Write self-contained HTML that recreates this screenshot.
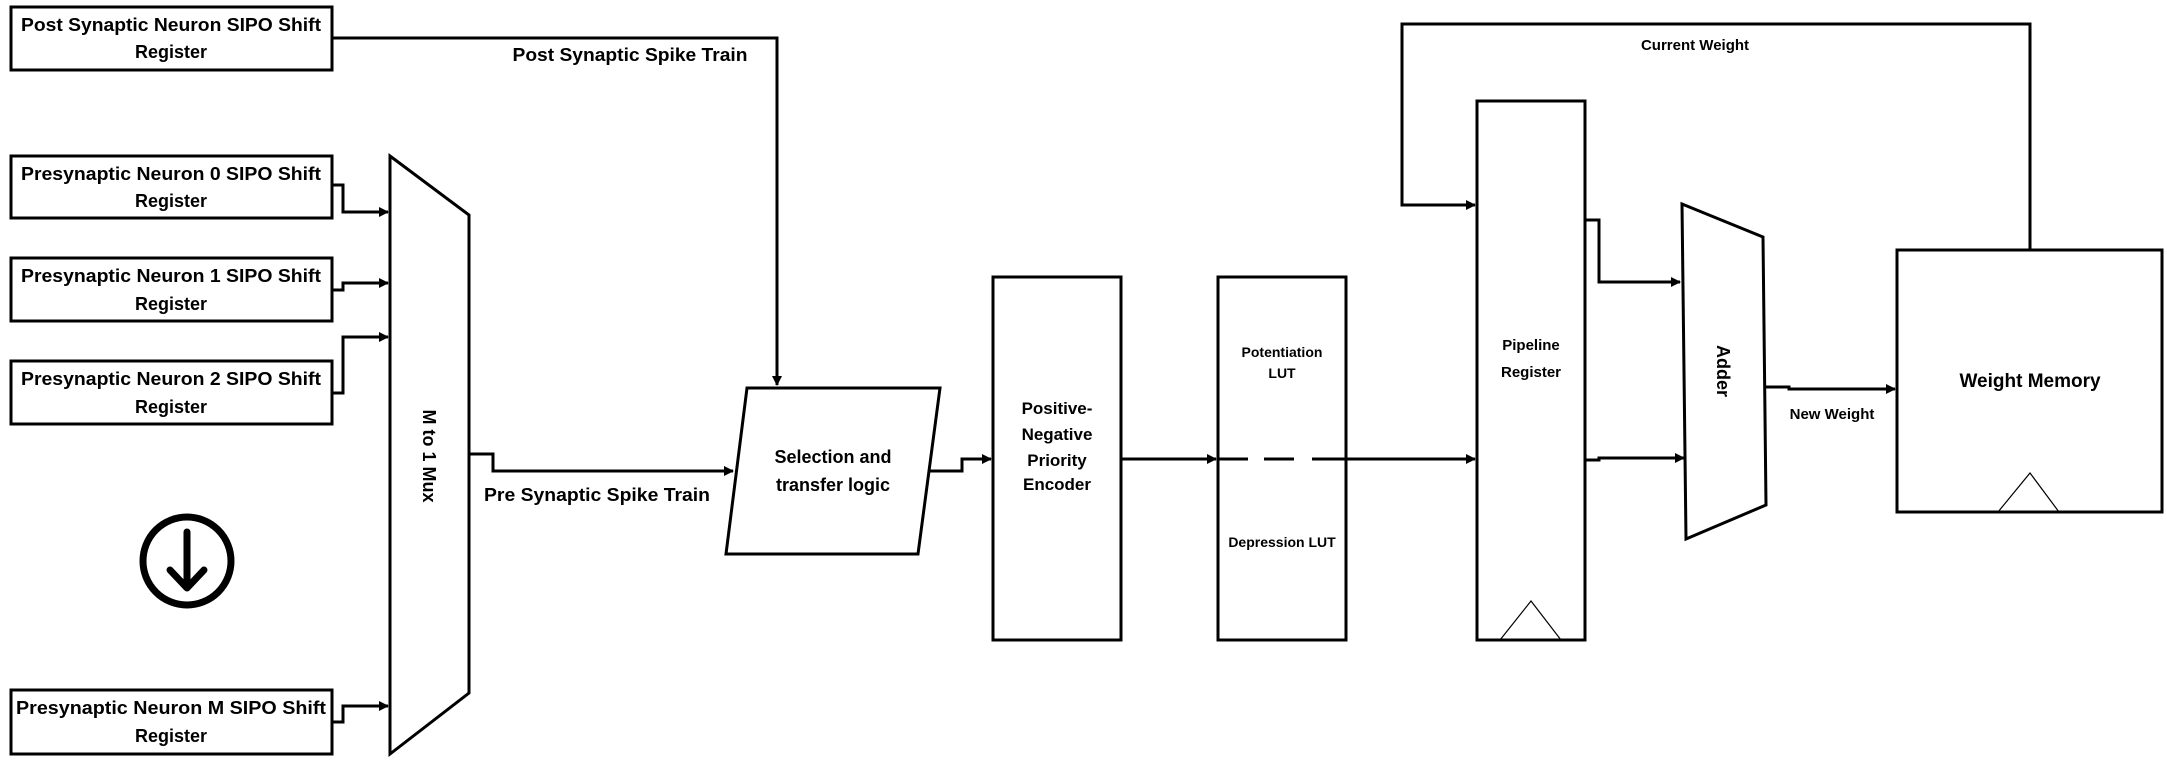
<!DOCTYPE html>
<html><head><meta charset="utf-8"><style>
html,body{margin:0;padding:0;background:#fff;}
svg{display:block;}
text{font-family:"Liberation Sans",sans-serif;font-weight:bold;fill:#000;}
</style></head><body>
<svg width="2167" height="765" viewBox="0 0 2167 765" xmlns="http://www.w3.org/2000/svg">
<defs>
<marker id="a" markerWidth="10" markerHeight="10" refX="9" refY="5" orient="auto" markerUnits="userSpaceOnUse">
<path d="M0,0 L10,5 L0,10 z" fill="#000"/>
</marker>
</defs>
<g fill="none" stroke="#000" stroke-width="3">
<!-- boxes -->
<rect x="11" y="7" width="321" height="63"/>
<rect x="11" y="156" width="321" height="62"/>
<rect x="11" y="258" width="321" height="63"/>
<rect x="11" y="361" width="321" height="63"/>
<rect x="11" y="690" width="321" height="64"/>
<!-- mux -->
<polygon points="390,156 469,215 469,693 390,754"/>
<!-- circle icon -->
<circle cx="187" cy="561" r="44" stroke-width="7"/>
<path d="M187,532 L187,586 M170,570 L187,588 L204,570" stroke-width="7" stroke-linecap="round" stroke-linejoin="round"/>
<!-- selection -->
<polygon points="747,388 940,388 918,554 726,554"/>
<rect x="993" y="277" width="128" height="363"/>
<rect x="1218" y="277" width="128" height="363"/>
<rect x="1477" y="101" width="108" height="539"/>
<polygon points="1682,204 1763,237 1766,505 1686,539"/>
<rect x="1897" y="250" width="265" height="262"/>
<!-- connectors -->
<polyline points="332,38 777,38 777,385" marker-end="url(#a)"/>
<polyline points="332,185 343,185 343,212 388,212" marker-end="url(#a)"/>
<polyline points="332,290 343,290 343,283 388,283" marker-end="url(#a)"/>
<polyline points="332,393 343,393 343,337 388,337" marker-end="url(#a)"/>
<polyline points="332,722 343,722 343,706 388,706" marker-end="url(#a)"/>
<polyline points="469,454 493,454 493,471 733,471" marker-end="url(#a)"/>
<polyline points="930,471 962,471 962,459 991,459" marker-end="url(#a)"/>
<polyline points="1121,459 1216,459" marker-end="url(#a)"/>
<path d="M1219,459 H1248 M1264,459 H1294 M1312,459 H1343"/>
<polyline points="1343,459 1475,459" marker-end="url(#a)"/>
<polyline points="2030,250 2030,24 1402,24 1402,205 1475,205" marker-end="url(#a)"/>
<polyline points="1585,220 1599,220 1599,282 1680,282" marker-end="url(#a)"/>
<polyline points="1585,460 1599,460 1599,458 1684,458" marker-end="url(#a)"/>
<polyline points="1766,387 1789,387 1789,389 1895,389" marker-end="url(#a)"/>
</g>
<g fill="none" stroke="#000" stroke-width="1.2">
<polyline points="1500,640 1531,601 1561,640"/>
<polyline points="1998,512 2030,473 2059,512"/>
</g>
<g font-size="18" text-anchor="middle">
<text x="171" y="31" textLength="300" lengthAdjust="spacingAndGlyphs">Post Synaptic Neuron SIPO Shift</text>
<text x="171" y="58">Register</text>
<text x="171" y="180" textLength="300" lengthAdjust="spacingAndGlyphs">Presynaptic Neuron 0 SIPO Shift</text>
<text x="171" y="207">Register</text>
<text x="171" y="282" textLength="300" lengthAdjust="spacingAndGlyphs">Presynaptic Neuron 1 SIPO Shift</text>
<text x="171" y="310">Register</text>
<text x="171" y="385" textLength="300" lengthAdjust="spacingAndGlyphs">Presynaptic Neuron 2 SIPO Shift</text>
<text x="171" y="413">Register</text>
<text x="171" y="714" textLength="310" lengthAdjust="spacingAndGlyphs">Presynaptic Neuron M SIPO Shift</text>
<text x="171" y="742">Register</text>
<text x="630" y="61" textLength="235" lengthAdjust="spacingAndGlyphs">Post Synaptic Spike Train</text>
<text x="597" y="501" textLength="226" lengthAdjust="spacingAndGlyphs">Pre Synaptic Spike Train</text>
<text x="833" y="463">Selection and</text>
<text x="833" y="491">transfer logic</text>
<text x="1057" y="414" font-size="17">Positive-</text>
<text x="1057" y="440" font-size="17">Negative</text>
<text x="1057" y="466" font-size="17">Priority</text>
<text x="1057" y="490" font-size="17">Encoder</text>
<text x="2030" y="387" font-size="19">Weight Memory</text>
<text transform="translate(423,456) rotate(90)" font-size="18">M to 1 Mux</text>
<text transform="translate(1717,371) rotate(90)" font-size="18">Adder</text>
</g>
<g font-size="14" text-anchor="middle">
<text x="1282" y="357">Potentiation</text>
<text x="1282" y="378">LUT</text>
<text x="1282" y="547">Depression LUT</text>
<text x="1531" y="350" font-size="15">Pipeline</text>
<text x="1531" y="377" font-size="15">Register</text>
<text x="1695" y="50" font-size="15">Current Weight</text>
<text x="1832" y="419" font-size="15">New Weight</text>
</g>
</svg>
</body></html>
